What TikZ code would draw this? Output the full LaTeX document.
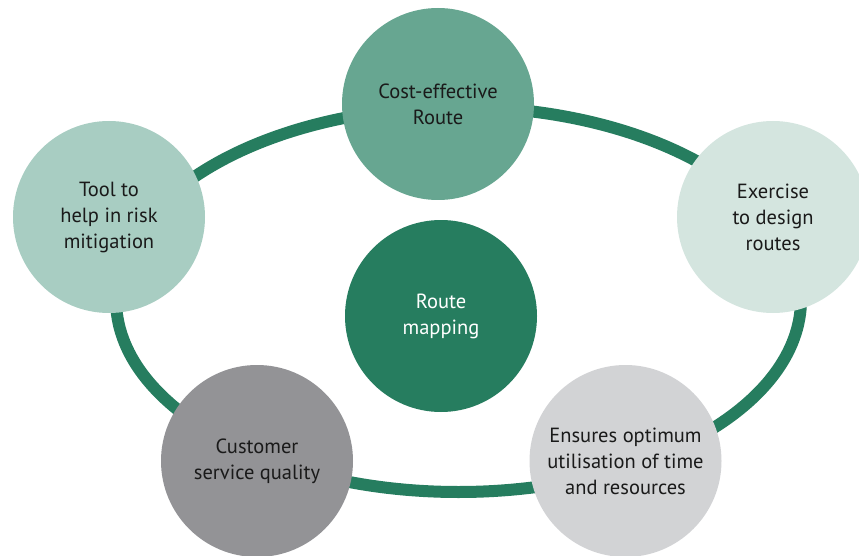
\documentclass[tikz,border=0pt]{standalone}
\usepackage{fontspec}
\setmainfont{PT Sans}
\definecolor{ringgreen}{HTML}{267D5F}
\definecolor{topc}{HTML}{67A691}
\definecolor{leftc}{HTML}{A8CDC2}
\definecolor{rightc}{HTML}{D4E5DF}
\definecolor{blc}{HTML}{939396}
\definecolor{brc}{HTML}{D2D3D5}
\definecolor{txt}{HTML}{1A1A1A}
\begin{document}
\begin{tikzpicture}[x=1pt,y=-1pt,
  bubble/.style={circle,minimum size=192pt,inner sep=0pt,align=center,
    font=\fontsize{20.5}{26}\selectfont,text=txt}]
\useasboundingbox (0,0) rectangle (859,556);
\clip (0,0) rectangle (859,556);
\draw[ringgreen,line width=12pt] (458.5,299.5) ellipse [x radius=342.5,y radius=192.5];
\node[bubble,fill=topc] (top) at (438,104) {Cost-effective\\Route};
\node[bubble,fill=leftc] (left) at (109,217) {Tool to\\help in risk\\mitigation};
\node[bubble,fill=rightc] (right) at (773,217) {Exercise\\to design\\routes};
\node[bubble,fill=ringgreen,text=white] (center) at (441,316) {Route\\mapping};
\node[bubble,fill=blc] (bl) at (257,461) {Customer\\service quality};
\node[bubble,fill=brc] (br) at (625.5,461) {Ensures optimum\\utilisation of time\\and resources};
\end{tikzpicture}
\end{document}
